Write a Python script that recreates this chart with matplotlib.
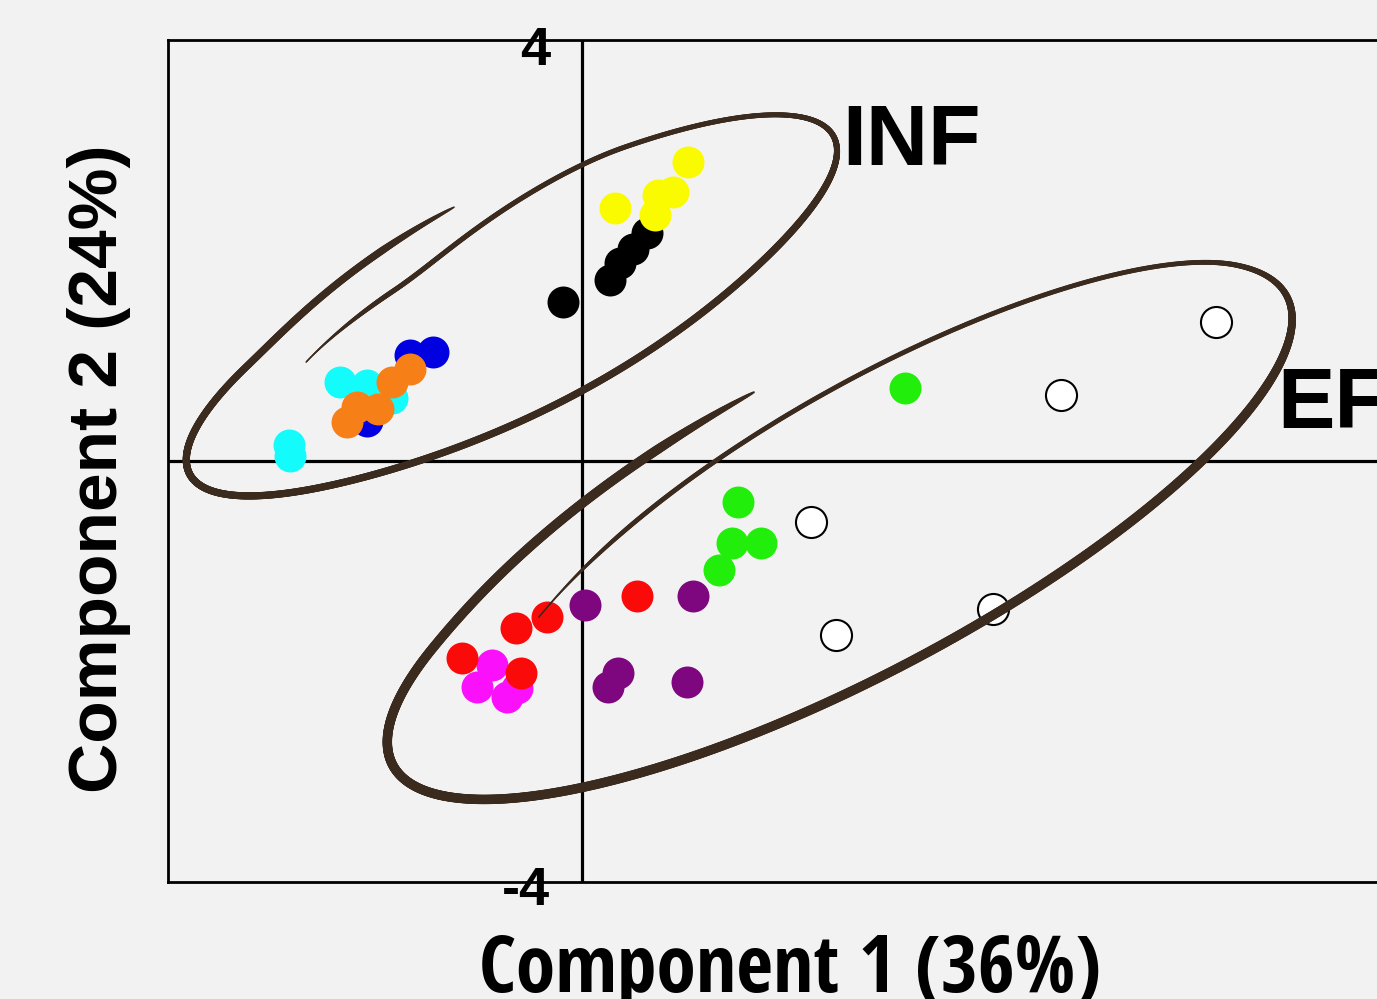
import numpy as np
import matplotlib.pyplot as plt
from matplotlib.collections import LineCollection
from matplotlib import font_manager
from matplotlib.font_manager import FontProperties

# PCA scores (Component 1, Component 2) per group
cyan_x = [-2.83, -2.82, -2.34, -2.08, -1.84]
cyan_y = [0.15, 0.05, 0.75, 0.72, 0.60]
blue_x = [-1.66, -1.44, -2.08]
blue_y = [1.01, 1.04, 0.38]
orange_x = [-1.66, -1.84, -2.17, -1.97, -2.27]
orange_y = [0.87, 0.75, 0.51, 0.49, 0.37]
black_x = [-0.18, 0.27, 0.37, 0.49, 0.63]
black_y = [1.51, 1.72, 1.88, 2.01, 2.17]
yellow_x = [0.32, 0.71, 0.73, 0.88, 1.02]
yellow_y = [2.40, 2.34, 2.53, 2.56, 2.84]
magenta_x = [-0.87, -1.01, -0.72, -0.63]
magenta_y = [-1.94, -2.15, -2.24, -2.16]
red_x = [-1.16, -0.64, -0.34, 0.53, -0.59]
red_y = [-1.87, -1.59, -1.48, -1.28, -2.01]
purple_x = [0.03, 1.07, 0.35, 0.25, 1.01]
purple_y = [-1.37, -1.28, -2.01, -2.15, -2.10]
green_x = [1.51, 1.45, 1.73, 1.32, 3.12]
green_y = [-0.39, -0.78, -0.78, -1.04, 0.69]
white_x = [2.21, 2.45, 3.97, 4.63, 6.13]
white_y = [-0.58, -1.65, -1.41, 0.63, 1.32]

groups = [
    (cyan_x, cyan_y, '#14fbfb'),
    (blue_x, blue_y, '#0000e0'),
    (orange_x, orange_y, '#f77f18'),
    (black_x, black_y, '#000000'),
    (yellow_x, yellow_y, '#fbfb00'),
    (magenta_x, magenta_y, '#fb10fb'),
    (red_x, red_y, '#fb0a0a'),
    (purple_x, purple_y, '#7e067e'),
    (green_x, green_y, '#22ee0c'),
]

BG = '#f2f2f2'
INK = '#3b2a1e'

plt.rcParams['font.family'] = ['Liberation Sans', 'DejaVu Sans']


def condensed_bold():
    """Pick a narrow bold sans if one is installed, else None."""
    prefs = ['Liberation Sans Narrow', 'Arial Narrow', 'Noto Sans',
             'Open Sans Condensed', 'Open Sans', 'Roboto Condensed',
             'Roboto', 'DejaVu Sans']
    found = {}
    for f in font_manager.fontManager.ttflist:
        w = f.weight if isinstance(f.weight, int) else (700 if 'bold' in str(f.weight) else 400)
        if w < 600 or 'italic' in str(f.style) or 'oblique' in str(f.style):
            continue
        tag = (str(f.stretch) + ' ' + f.name + ' ' + f.fname).lower()
        if 'extra' in tag or 'ultra' in tag or 'semi' in tag:
            continue
        if 'narrow' in tag or 'condensed' in tag or 'cond' in tag:
            found.setdefault(f.name, f.fname)
    for p in prefs:
        if p in found:
            return FontProperties(fname=found[p])
    if found:
        return FontProperties(fname=sorted(found.values())[0])
    return None


def smooth(x):
    x = np.clip(x, 0, 1)
    return 3 * x ** 2 - 2 * x ** 3


def sketch_loop(ax, cx, cy, a, b, angle, t0, sweep, radius, w_top, w_bot,
                thick_from, taper_in, taper_out):
    """Hand-drawn looking loop: one stroke going round slightly more than once."""
    s = np.linspace(0, sweep, 1500)
    t = np.radians(t0 - s)
    r = radius(s)
    u = a * r * np.cos(t)
    v = b * r * np.sin(t)
    ph = np.radians(angle)
    x = cx + u * np.cos(ph) - v * np.sin(ph)
    y = cy + u * np.sin(ph) + v * np.cos(ph)
    # light pressure along the first pass, heavier after the far end
    w = w_top + (w_bot - w_top) * smooth((s - thick_from) / 80)
    w = w * (0.3 + 0.7 * smooth(s / taper_in))
    w = w * (0.1 + 0.9 * np.sqrt(np.clip((sweep - s) / taper_out, 0, 1)))
    pts = np.column_stack([x, y]).reshape(-1, 1, 2)
    segs = np.concatenate([pts[:-1], pts[1:]], axis=1)
    lc = LineCollection(segs, linewidths=w[:-1], colors=INK,
                        capstyle='round', joinstyle='round', zorder=6)
    ax.add_collection(lc)


fig = plt.figure(figsize=(13.77, 9.99), dpi=100, facecolor=BG)
ax = fig.add_axes([168 / 1377, 117 / 999, 1252.35 / 1377, 842 / 999])
ax.set_facecolor(BG)
ax.set_xlim(-4, 8.1)
ax.set_ylim(-4, 4)
ax.set_xticks([])
ax.set_yticks([])
for sp in ax.spines.values():
    sp.set_linewidth(2.0)
    sp.set_color('black')

ax.axhline(0, color='black', lw=2.3, zorder=1)
ax.axvline(0, color='black', lw=2.3, zorder=1)

for gx, gy, col in groups:
    ax.scatter(gx, gy, s=530, color=col, linewidths=0, zorder=3)
ax.scatter(white_x, white_y, s=500, facecolor='white', edgecolor='black',
           linewidths=1.5, zorder=3)

# group outlines
sketch_loop(ax, -0.68, 1.48, 3.50, 0.95, 27.2, 142, 411,
            lambda s: (0.73 + 0.27 * smooth((s - 30) / 50)
                       + 0.09 * np.exp(-((s - 228) / 32) ** 2)
                       + 0.14 * smooth((s - 365) / 46)),
            w_top=3.6, w_bot=5.2, thick_from=110, taper_in=30, taper_out=12)
sketch_loop(ax, 2.49, -0.66, 4.86, 1.42, 27.2, 145.5, 414,
            lambda s: 0.74 + 0.26 * smooth(s / 125) + 0.09 * smooth((s - 360) / 55),
            w_top=3.4, w_bot=6.8, thick_from=110, taper_in=30, taper_out=12)

ax.text(2.51, 2.81, 'INF', fontsize=62, fontweight='bold', ha='left',
        va='baseline', zorder=7)
ax.text(6.72, 0.31, 'EF', fontsize=62, fontweight='bold', ha='left',
        va='baseline', zorder=7, clip_on=False)

ax.text(-0.31, 3.76, '4', fontsize=39, fontweight='bold', ha='right',
        va='baseline', zorder=7)
ax.text(-0.31, -4.22, '-4', fontsize=39, fontweight='bold', ha='right',
        va='baseline', zorder=7)

narrow = condensed_bold()
if narrow is not None:
    narrow.set_size(60)
    xl = fig.text(790 / 1377, 7 / 999, 'Component 1 (36%)', fontproperties=narrow,
                  ha='center', va='baseline')
else:
    xl = fig.text(790 / 1377, 7 / 999, 'Component 1 (36%)', fontsize=60,
                  fontweight='bold', ha='center', va='baseline')
# keep the x label at its printed width
renderer = fig.canvas.get_renderer()
width = xl.get_window_extent(renderer).width
xl.set_fontsize(xl.get_fontsize() * 623 / width)

fig.text(117 / 1377, 530 / 999, 'Component 2 (24%)', fontsize=50,
         fontweight='bold', rotation=90, rotation_mode='anchor',
         ha='center', va='baseline')

fig.savefig('out.png', dpi=100, facecolor=BG)
